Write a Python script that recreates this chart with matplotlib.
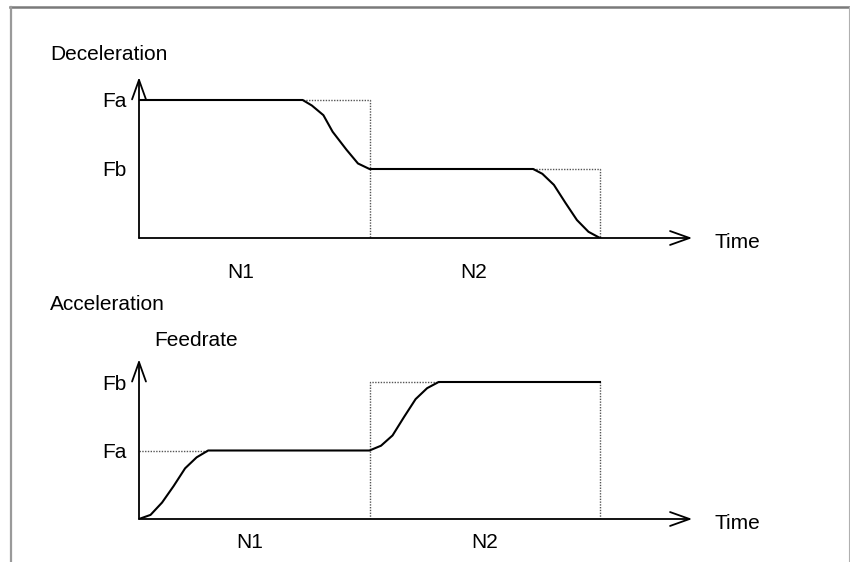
import matplotlib.pyplot as plt
from matplotlib.lines import Line2D

plt.rcParams['font.family'] = ['Liberation Sans', 'DejaVu Sans']

# time in block units (N1 = 0..1, N2 = 1..2), feedrate with the higher level = 1
decel_t = [0, 0.71, 0.75, 0.80, 0.84, 0.90, 0.95, 1.0, 1.71, 1.75, 1.80, 1.85, 1.90, 1.95, 2.0]
decel_f = [1.0, 1.0, 0.96, 0.89, 0.77, 0.64, 0.54, 0.5, 0.5, 0.465, 0.385, 0.255, 0.13, 0.045, 0.0]
decel_levels = [0.5, 1.0]
decel_level_labels = ['Fb', 'Fa']

accel_t = [0, 0.05, 0.10, 0.15, 0.20, 0.25, 0.30, 1.0, 1.05, 1.10, 1.15, 1.20, 1.25, 1.30, 2.0]
accel_f = [0, 0.03, 0.12, 0.24, 0.37, 0.45, 0.5, 0.5, 0.535, 0.61, 0.745, 0.875, 0.955, 1.0, 1.0]
accel_levels = [0.5, 1.0]
accel_level_labels = ['Fa', 'Fb']

block_labels = ['N1', 'N2']
block_ends = [1.0, 2.0]

W, H = 850, 562
PX_T = 230.5
T_MAX = 2.5
F_MAX = 1.17
FS = 15

fig = plt.figure(figsize=(W / 100, H / 100), dpi=100)

# page frame
fig.add_artist(Line2D([10 / W, 849 / W], [1 - 7 / H, 1 - 7 / H], color='#7a7a7a', lw=1.8))
fig.add_artist(Line2D([11 / W, 11 / W], [0, 1 - 7 / H], color='#9a9a9a', lw=1.6))
fig.add_artist(Line2D([848.5 / W, 848.5 / W], [0, 1 - 7 / H], color='#b0b0b0', lw=0.8))


def make_axes(x0, y_base, px_f):
    ax = fig.add_axes([x0 / W, (H - y_base) / H, PX_T * T_MAX / W, px_f * F_MAX / H])
    ax.set_xlim(0, T_MAX)
    ax.set_ylim(0, F_MAX)
    for s in ax.spines.values():
        s.set_visible(False)
    ax.patch.set_alpha(0)
    arrow = dict(arrowstyle='->,head_length=1.4,head_width=0.5', lw=1.3, color='black',
                 shrinkA=0, shrinkB=0)
    ax.annotate('', xy=(2.4, 0), xytext=(0, 0), arrowprops=arrow, annotation_clip=False)
    ax.annotate('', xy=(0, F_MAX - 0.005), xytext=(0, 0), arrowprops=arrow, annotation_clip=False)
    ax.text(2.495, -0.035, 'Time', fontsize=FS, va='center', ha='left')
    ax.tick_params(length=0, labelsize=FS)
    return ax


dot = dict(color='#555555', lw=1.0, ls=(0, (1, 1)))

# Deceleration
ax1 = make_axes(139, 238, 138)
ax1.plot([decel_t[1], block_ends[0], block_ends[0]], [decel_levels[1], decel_levels[1], 0], **dot)
ax1.plot([decel_t[8], block_ends[1], block_ends[1]], [decel_levels[0], decel_levels[0], 0], **dot)
ax1.plot(decel_t, decel_f, color='black', lw=1.5)
ax1.set_yticks(decel_levels, decel_level_labels)
ax1.set_xticks([0.44, 1.45], block_labels)
ax1.tick_params(axis='y', pad=9)
ax1.tick_params(axis='x', pad=18)
fig.text(50 / W, 1 - 54 / H, 'Deceleration', fontsize=FS, va='center')

# Acceleration
ax2 = make_axes(139, 519, 137)
ax2.plot([0, accel_t[6]], [accel_levels[0], accel_levels[0]], **dot)
ax2.plot([block_ends[0], block_ends[0], accel_t[13]], [0, accel_levels[1], accel_levels[1]], **dot)
ax2.plot([block_ends[1], block_ends[1]], [0, accel_levels[1]], **dot)
ax2.plot(accel_t, accel_f, color='black', lw=1.5)
ax2.set_yticks(accel_levels, accel_level_labels)
ax2.set_xticks([0.48, 1.50], block_labels)
ax2.tick_params(axis='y', pad=9)
ax2.tick_params(axis='x', pad=10)
fig.text(50 / W, 1 - 305 / H, 'Acceleration', fontsize=FS, va='center')
fig.text(154 / W, 1 - 341 / H, 'Feedrate', fontsize=FS, va='center')

fig.savefig('out.png', dpi=100)
